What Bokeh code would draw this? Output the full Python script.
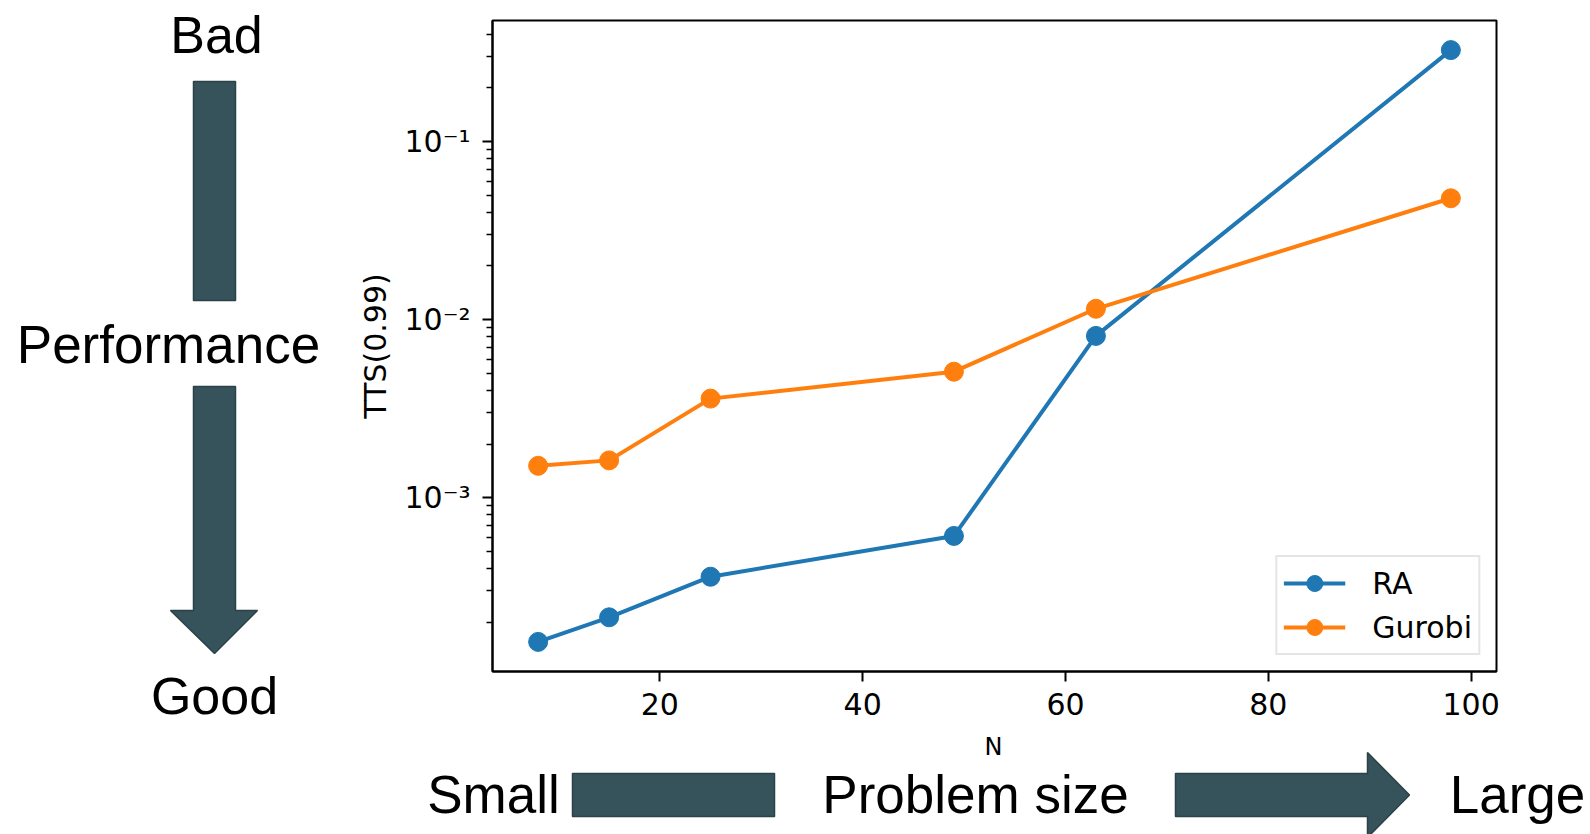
from bokeh.plotting import figure
from bokeh.models import Range1d, FixedTicker, CustomJSTickFormatter
from bokeh.layouts import column, row
from bokeh.core.properties import value
from bokeh.embed import file_html
from bokeh.resources import INLINE

# ---------------- data ----------------
problem_size = [8, 15, 25, 49, 63, 98]
tts_ra = [1.55e-4, 2.13e-4, 3.6e-4, 6.1e-4, 8.1e-3, 0.326]
tts_gurobi = [1.51e-3, 1.62e-3, 3.6e-3, 5.1e-3, 1.15e-2, 0.048]
series_names = ["RA", "Gurobi"]
series_colors = ["#1f77b4", "#ff7f0e"]

x_ticks = [20, 40, 60, 80, 100]
y_ticks = [1e-3, 1e-2, 1e-1]
y_tick_labels = ["10\u207b\u00b3", "10\u207b\u00b2", "10\u207b\u00b9"]
y_minor_ticks = [k * 10.0 ** e for e in range(-4, 0) for k in range(2, 10)]

x_label = "N"
y_label = "TTS(0.99)"
side_texts = ["Bad", "Performance", "Good"]
bottom_texts = ["Small", "Problem size", "Large"]

ARROW_FILL = "#36525a"
ARROW_LINE = "#2b4248"
CHART_FONT = "DejaVu Sans"
DECO_FONT = "Liberation Sans"

# ---------------- main chart ----------------
p = figure(width=1250, height=730,
           x_range=Range1d(3.5, 102.5), y_range=Range1d(1.057e-4, 0.478),
           y_axis_type="log", output_backend="svg", toolbar_location=None,
           min_border_left=152, min_border_right=94,
           min_border_top=20, min_border_bottom=59, frame_align=False)
p.grid.visible = False
p.outline_line_color = "black"
p.outline_line_width = 2
p.background_fill_color = "white"
p.border_fill_color = "white"

for ys, name, col in zip([tts_ra, tts_gurobi], series_names, series_colors):
    p.line(problem_size, ys, line_color=col, line_width=4, legend_label=name)
    p.scatter(problem_size, ys, marker="circle", size=19, fill_color=col,
              line_color=col, legend_label=name)

xa = p.xaxis[0]
xa.ticker = FixedTicker(ticks=x_ticks)
ya = p.yaxis[0]
ya.ticker = FixedTicker(ticks=y_ticks, minor_ticks=y_minor_ticks)
ya.formatter = CustomJSTickFormatter(args=dict(tvals=y_ticks, tlabels=y_tick_labels), code="""
    for (let i = 0; i < tvals.length; i++) {
        if (Math.abs(Math.log10(tick) - Math.log10(tvals[i])) < 1e-6) return tlabels[i];
    }
    return "";
""")
ya.axis_label = y_label
ya.axis_label_text_font = CHART_FONT
ya.axis_label_text_font_size = "30px"
ya.axis_label_text_font_style = "normal"
ya.axis_label_text_color = "black"
ya.axis_label_standoff = 8

for ax in (xa, ya):
    ax.axis_line_color = "black"
    ax.axis_line_width = 2
    ax.major_tick_line_color = "black"
    ax.major_tick_line_width = 2
    ax.major_tick_out = 10
    ax.major_tick_in = 0
    ax.minor_tick_line_color = "black"
    ax.minor_tick_line_width = 1.5
    ax.minor_tick_out = 6
    ax.minor_tick_in = 0
    ax.major_label_text_font = CHART_FONT
    ax.major_label_text_font_size = "30px"
    ax.major_label_text_color = "black"
xa.minor_tick_line_color = None
xa.major_label_standoff = 11
ya.major_label_standoff = 12

lg = p.legend[0]
lg.location = "bottom_right"
lg.margin = 16
lg.padding = 6
lg.spacing = 4
lg.glyph_width = 62
lg.glyph_height = 40
lg.label_height = 30
lg.label_standoff = 27
lg.label_text_font = CHART_FONT
lg.label_text_font_size = "30px"
lg.label_text_color = "black"
lg.border_line_color = "#cccccc"
lg.border_line_width = 2
lg.background_fill_color = "white"
lg.background_fill_alpha = 0.8

# ---------------- left decoration ----------------
left = figure(width=340, height=730, x_range=Range1d(0, 340), y_range=Range1d(730, 0),
              x_axis_type=None, y_axis_type=None, output_backend="svg",
              toolbar_location=None, min_border=0, frame_align=False)
left.grid.visible = False
left.outline_line_color = None
left.patch([193, 235, 235, 193], [81, 81, 300, 300],
           fill_color=ARROW_FILL, line_color=ARROW_LINE, line_width=1.5)
left.patch([193, 235, 235, 257, 214, 170, 193], [386, 386, 610, 610, 653, 610, 610],
           fill_color=ARROW_FILL, line_color=ARROW_LINE, line_width=1.5)
left.text(x=[216, 214], y=[34, 695], text=[side_texts[0], side_texts[2]],
          text_font=value(DECO_FONT), text_font_size=value("52px"),
          text_align="center", text_baseline="alphabetic", text_color="black")
left.text(x=[168], y=[344], text=[side_texts[1]],
          text_font=value(DECO_FONT), text_font_size=value("53px"),
          text_align="center", text_baseline="alphabetic", text_color="black")

# ---------------- bottom decoration ----------------
bottom = figure(width=1590, height=104, x_range=Range1d(0, 1590), y_range=Range1d(834, 730),
                x_axis_type=None, y_axis_type=None, output_backend="svg",
                toolbar_location=None, min_border=0, frame_align=False)
bottom.grid.visible = False
bottom.outline_line_color = None
bottom.patch([572, 774, 774, 572], [773, 773, 816, 816],
             fill_color=ARROW_FILL, line_color=ARROW_LINE, line_width=1.5)
bottom.patch([1175, 1367, 1367, 1409, 1367, 1367, 1175],
             [773, 773, 752, 794.5, 837, 816, 816],
             fill_color=ARROW_FILL, line_color=ARROW_LINE, line_width=1.5)
bottom.text(x=[493, 975, 1517], y=[794, 794, 794], text=bottom_texts,
            text_font=value(DECO_FONT), text_font_size=value("53px"),
            text_align="center", text_baseline="alphabetic", text_color="black")
bottom.text(x=[993], y=[746], text=[x_label],
            text_font=value(CHART_FONT), text_font_size=value("24px"),
            text_align="center", text_baseline="alphabetic", text_color="black")

layout = column(row(left, p), bottom)
open("out.html", "w").write(file_html(layout, INLINE))
